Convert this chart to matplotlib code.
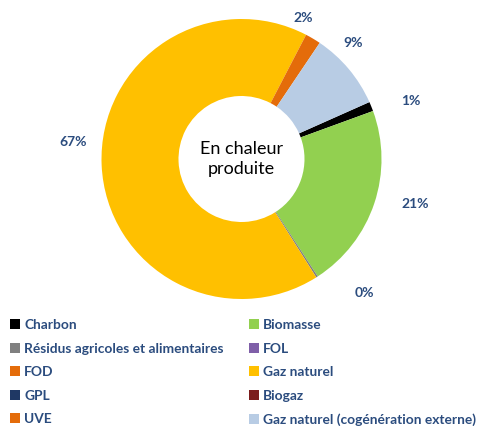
import numpy as np
import matplotlib.pyplot as plt
from matplotlib.patches import Patch

# data
sources = ["Charbon", "Biomasse", "Résidus agricoles et alimentaires", "FOL", "FOD",
           "Gaz naturel", "GPL", "Biogaz", "UVE", "Gaz naturel (cogénération externe)"]
shares = [1.1, 21.4, 0.2, 0.0, 0.0, 66.6, 0.0, 0.0, 1.8, 8.9]
colors = ["#000000", "#92D050", "#808080", "#7F5FA8", "#E46C0A",
          "#FFC000", "#1F3864", "#7B1C1C", "#E46C0A", "#B8CCE4"]
labels_shown = ["1%", "21%", "0%", "", "", "67%", "", "", "2%", "9%"]

# label placement tweaks (angle offset in degrees, radius factor)
label_shift = [-3, 4, 10, 0, 0, -8, 0, 0, 7, 6]
label_rad = [1.28, 1.28, 1.30, 1.2, 1.2, 1.21, 1.2, 1.2, 1.10, 1.15]

txt_col = "#2B4C7E"
plt.rcParams["font.family"] = ["Lato", "DejaVu Sans"]

fig = plt.figure(figsize=(4.85, 4.26), dpi=100)
R = 140
ax = fig.add_axes([(241.5 - R) / 485, (426 - 159 - R) / 426, 2 * R / 485, 2 * R / 426])

wedges, _ = ax.pie(shares, colors=colors, startangle=24, counterclock=False,
                   radius=1, wedgeprops=dict(width=0.55, linewidth=0))
ax.set_xlim(-1, 1)
ax.set_ylim(-1, 1)
ax.set_aspect("equal")

for w, lab, sh, rr in zip(wedges, labels_shown, label_shift, label_rad):
    if not lab:
        continue
    mid = np.deg2rad((w.theta1 + w.theta2) / 2 + sh)
    ax.text(rr * np.cos(mid), rr * np.sin(mid), lab, ha="center", va="center",
            fontsize=10, fontweight="bold", color=txt_col)

ax.text(0, 0, "En chaleur\nproduite", ha="center", va="center", fontsize=13,
        color="black", linespacing=1.3)

# legend, row-major order in two columns
handles = [Patch(facecolor=c, edgecolor="none") for c in colors]
order = list(range(0, 10, 2)) + list(range(1, 10, 2))
leg = fig.legend([handles[i] for i in order], [sources[i] for i in order],
                 ncol=2, loc="upper left", bbox_to_anchor=(10 / 485, 1 - 319 / 426),
                 frameon=False, fontsize=9.9, handlelength=0.72, handleheight=0.72,
                 handletextpad=0.3, columnspacing=1.85, labelspacing=0.84,
                 borderpad=0, borderaxespad=0)
for t in leg.get_texts():
    t.set_color(txt_col)
    t.set_fontweight("bold")

fig.savefig("out.png", dpi=100)
